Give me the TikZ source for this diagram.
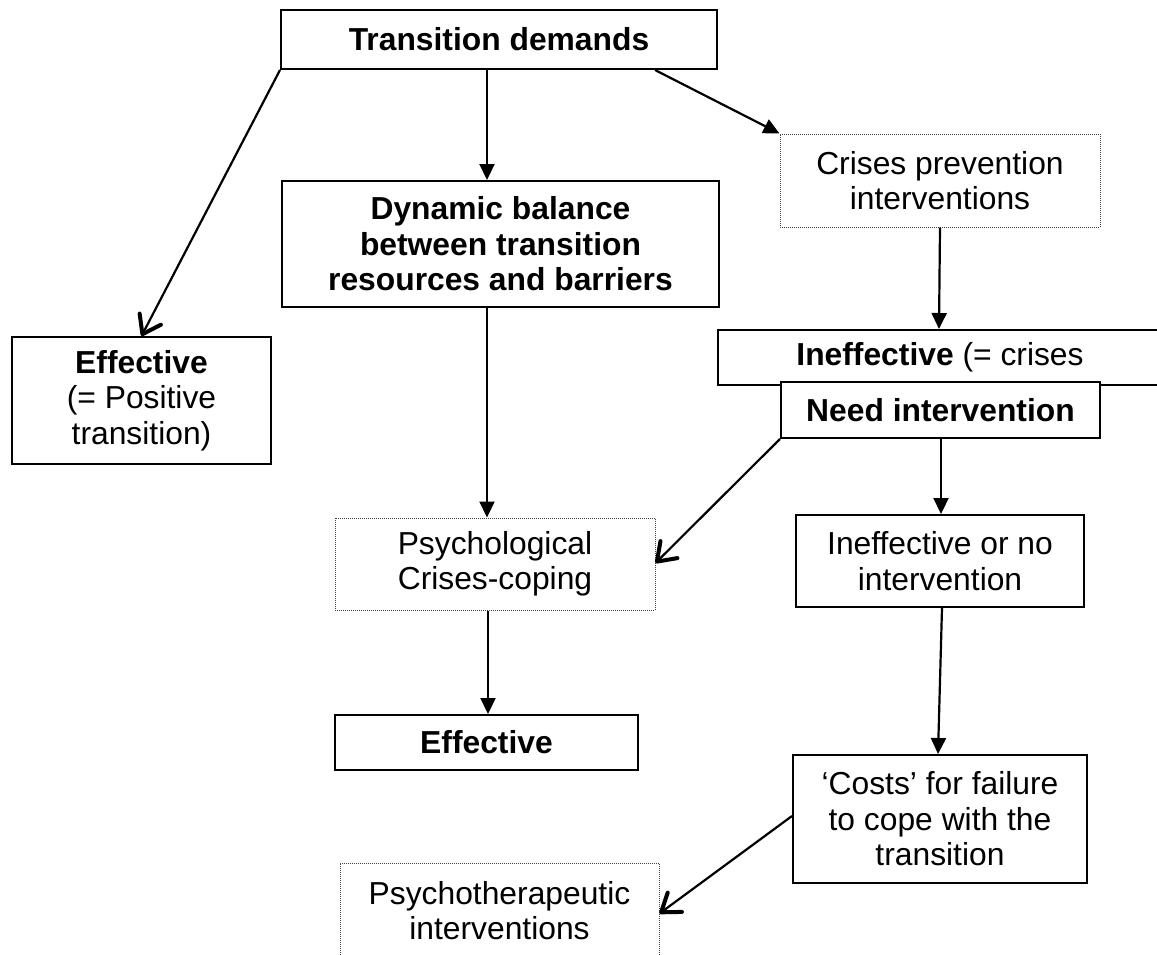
\documentclass[tikz,border=0pt]{standalone}
\usepackage{fontspec}
\setmainfont{Liberation Sans}
\usetikzlibrary{arrows.meta}
\begin{document}
\begin{tikzpicture}[x=1pt,y=-1pt,
  box/.style={draw=black, line width=2pt, fill=white, align=center, inner sep=0pt, font=\fontsize{31.8}{35.5}\selectfont},
  dbox/.style={box, draw=black!75, line width=1pt, dash pattern=on 1pt off 1pt},
  tri/.style={line width=2.2pt, -{Triangle[length=16pt,width=15pt]}},
  barb/.style={line width=2.2pt, -{Straight Barb[length=17pt,width=24pt,line width=4pt,round]}}
]
\useasboundingbox (0,0) rectangle (1157,954);
\node[box, minimum width=436pt, minimum height=59pt] (td) at (499,39.5) {\textbf{Transition demands}};
\node[box, minimum width=437pt, minimum height=126pt] (dyn) at (500.5,244) {\textbf{Dynamic balance}\\\textbf{between transition}\\\textbf{resources and barriers}};
\node[box, minimum width=259pt, minimum height=127pt] (eff1) at (141.5,400.5) {\textbf{Effective}\\(= Positive\\transition)};
\node[dbox, minimum width=320pt, minimum height=93pt] (cpi) at (940,180.5) {Crises prevention\\interventions};
\node[box, minimum width=444pt, minimum height=55pt] (ineff) at (940,357.5) {\textbf{Ineffective} (= crises};
\node[box, minimum width=319pt, minimum height=56pt] (need) at (940.5,410) {\textbf{Need intervention}};
\node[dbox, minimum width=320pt, minimum height=92pt] (psy) at (495,564) {Psychological\\Crises-coping};
\node[box, minimum width=303pt, minimum height=55pt] (eff2) at (486.5,742.5) {\textbf{Effective}};
\node[box, minimum width=288pt, minimum height=92pt] (nointv) at (940,561) {Ineffective or no\\intervention};
\node[box, minimum width=294pt, minimum height=128pt] (costs) at (940,819) {‘Costs’ for failure\\to cope with the\\transition};
\node[dbox, minimum width=319pt, minimum height=95pt] (ther) at (499.5,910.5) {Psychotherapeutic\\interventions};

\draw[barb] (td.south west) -- (eff1.north);
\draw[tri] ([xshift=-12pt]td.south) -- ([xshift=-13.5pt]dyn.north);
\draw[tri] ([xshift=156pt]td.south) -- (cpi.north west);
\draw[tri] (cpi.south) -- ([xshift=-1pt]ineff.north);
\draw[tri] ([xshift=-13.5pt]dyn.south) -- ([xshift=-8pt]psy.north);
\draw[barb] (need.south west) -- ([yshift=1pt]psy.east);
\draw[tri] ([xshift=0.5pt]need.south) -- ([xshift=1pt]nointv.north);
\draw[tri] ([xshift=2pt]nointv.south) -- ([xshift=-2pt]costs.north);
\draw[tri] ([xshift=-7pt]psy.south) -- ([xshift=1.5pt]eff2.north);
\draw[barb] ([yshift=3pt]costs.west) -- ([yshift=-3pt]ther.east);
\end{tikzpicture}
\end{document}
